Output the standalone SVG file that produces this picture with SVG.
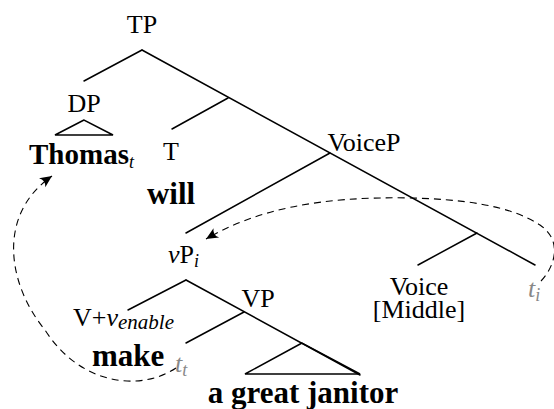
<svg xmlns="http://www.w3.org/2000/svg" width="554" height="409" viewBox="0 0 554 409">
<style>
.l{stroke:#000;stroke-width:1.5;fill:none;stroke-linecap:round}
.d{stroke:#000;stroke-width:1.1;fill:none;stroke-dasharray:7 5}
text{font-family:"Liberation Serif","Times New Roman",serif;font-size:26px;fill:#000}
.b{font-weight:bold;font-size:31px}
.g{fill:#888}
.it{font-style:italic}
.sub{font-size:18px;font-style:italic;font-weight:normal}
</style>
<defs>
<marker id="ah" viewBox="-13 -7 14 14" refX="0" refY="0" markerWidth="14" markerHeight="14" markerUnits="userSpaceOnUse" orient="auto">
<path d="M0,0 L-12,-5.5 Q-7.5,0 -12,5.5 Z" fill="#000"/>
</marker>
</defs>
<g id="connectors">
<line class="l" x1="142" y1="50" x2="84" y2="81"/>
<line class="l" x1="142" y1="50" x2="535" y2="265"/>
<line class="l" x1="228" y1="98" x2="172" y2="129"/>
<line class="l" x1="330" y1="153" x2="186" y2="233"/>
<line class="l" x1="477" y1="233" x2="418" y2="265"/>
<polygon class="l" points="84,120 55,135 113,135"/>
<line class="l" x1="186" y1="280" x2="128" y2="310"/>
<line class="l" x1="186" y1="280" x2="360" y2="375"/>
<line class="l" x1="244" y1="312" x2="186" y2="343"/>
<polygon class="l" points="302,343 245,374 360,374"/>
<path class="d" d="M541,281 C556,265 562,240 540,225 C510,205 460,199 410,198 C320,196 255,210 206,239" marker-end="url(#ah)"/>
<path class="d" d="M176,368 C140,392 80,385 45,330 C8,285 -4,215 52,176" marker-end="url(#ah)"/>
</g>
<g id="TP"><text x="142" y="33" text-anchor="middle">TP</text></g>
<g id="DP"><text x="84" y="112" text-anchor="middle">DP</text></g>
<g id="Thomas"><text class="b" x="29" y="164" style="font-size:29px">Thomas<tspan class="sub" dy="4">t</tspan></text></g>
<g id="T"><text x="171" y="160" text-anchor="middle">T</text></g>
<g id="will"><text class="b" x="171" y="204" text-anchor="middle">will</text></g>
<g id="VoiceP"><text x="364" y="151" text-anchor="middle">VoiceP</text></g>
<g id="vP"><text x="168" y="263"><tspan class="it">v</tspan>P<tspan class="sub" dy="4">i</tspan></text></g>
<g id="VP"><text x="258" y="307" text-anchor="middle">VP</text></g>
<g id="Vv"><text x="73" y="326">V+<tspan class="it">v</tspan><tspan class="sub" dy="3" style="font-size:21px">enable</tspan></text></g>
<g id="make"><text class="b" x="92" y="366">make</text></g>
<g id="tt"><text class="g it" x="175" y="372">t<tspan class="sub" dy="4">t</tspan></text></g>
<g id="Voice"><text x="419" y="295" text-anchor="middle">Voice</text><text x="419" y="318" text-anchor="middle">[Middle]</text></g>
<g id="ti"><text class="g it" x="528" y="297">t<tspan class="sub" dy="4">i</tspan></text></g>
<g id="obj"><text class="b" x="303" y="403" text-anchor="middle">a great janitor</text></g>
</svg>
